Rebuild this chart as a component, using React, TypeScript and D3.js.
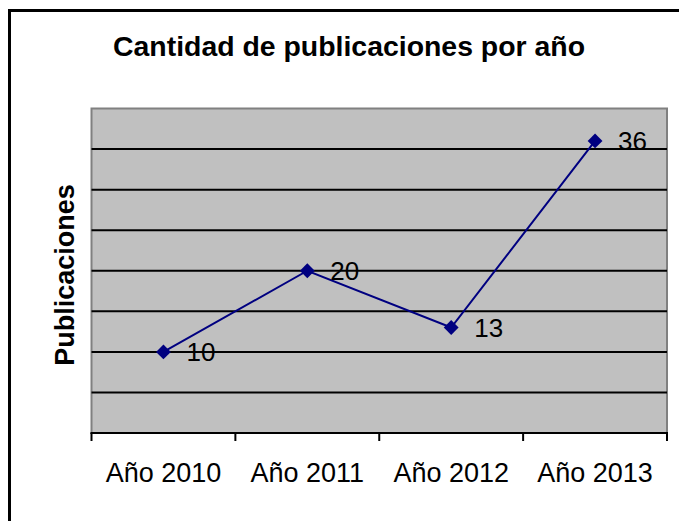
import React from "react";
import * as d3 from "d3";

const categories = ["Año 2010", "Año 2011", "Año 2012", "Año 2013"];
const values = [10, 20, 13, 36];
const yTicks = [5, 10, 15, 20, 25, 30, 35];
const yDomain = [0, 40];
const title = "Cantidad de publicaciones por año";
const yTitle = "Publicaciones";

const W = 679;
const H = 521;
const plot = { left: 91.5, right: 667, top: 108.5, bottom: 433 };
const FONT = "'Liberation Sans', Arial, sans-serif";

export default function App() {
  const x = d3
    .scaleBand<string>()
    .domain(categories)
    .range([plot.left, plot.right])
    .paddingInner(0)
    .paddingOuter(0);
  const y = d3.scaleLinear().domain(yDomain).range([plot.bottom, plot.top]);
  const cx = (c: string) => (x(c) as number) + x.bandwidth() / 2;
  const line = d3
    .line<number>()
    .x((_, i) => cx(categories[i]))
    .y((d) => y(d));
  const boundaries = [...categories.map((c) => x(c) as number), plot.right];
  const marker = d3.symbol(d3.symbolSquare, 110)();

  return (
    <svg
      width={W}
      height={H}
      style={{ position: "absolute", left: 0, top: 0, background: "#fff" }}
    >
      <rect x={0} y={0} width={W} height={H} fill="#fff" />
      <rect x={9.5} y={10.5} width={W + 20} height={H + 20} fill="none" stroke="#000" strokeWidth={3} />
      <text
        x={349}
        y={56}
        textAnchor="middle"
        fontFamily={FONT}
        fontWeight="bold"
        fontSize={28}
        textLength={472}
        lengthAdjust="spacingAndGlyphs"
        fill="#000"
      >
        {title}
      </text>
      <rect
        x={plot.left}
        y={plot.top}
        width={plot.right - plot.left}
        height={plot.bottom - plot.top}
        fill="#C0C0C0"
        stroke="#808080"
        strokeWidth={2}
      />
      {yTicks.map((t) => (
        <line
          key={t}
          x1={plot.left}
          x2={plot.right}
          y1={y(t)}
          y2={y(t)}
          stroke="#000"
          strokeWidth={2}
        />
      ))}
      <line x1={plot.left - 1} x2={plot.right + 1} y1={plot.bottom} y2={plot.bottom} stroke="#000" strokeWidth={2} />
      {boundaries.map((b, i) => (
        <line key={i} x1={b} x2={b} y1={plot.bottom} y2={plot.bottom + 8} stroke="#000" strokeWidth={2} />
      ))}
      {categories.map((c) => (
        <text
          key={c}
          x={cx(c)}
          y={482}
          textAnchor="middle"
          fontFamily={FONT}
          fontSize={27}
          fill="#000"
        >
          {c}
        </text>
      ))}
      <text
        transform={`translate(74, 275) rotate(-90)`}
        textAnchor="middle"
        fontFamily={FONT}
        fontWeight="bold"
        fontSize={27}
        fill="#000"
      >
        {yTitle}
      </text>
      <path d={line(values) || ""} fill="none" stroke="#000080" strokeWidth={2} />
      {values.map((v, i) => (
        <g key={i}>
          <path
            d={marker || ""}
            transform={`translate(${cx(categories[i])}, ${y(v)}) rotate(45)`}
            fill="#000080"
          />
          <text
            x={cx(categories[i]) + 23}
            y={y(v) + 9}
            fontFamily={FONT}
            fontSize={26}
            fill="#000"
          >
            {v}
          </text>
        </g>
      ))}
    </svg>
  );
}
